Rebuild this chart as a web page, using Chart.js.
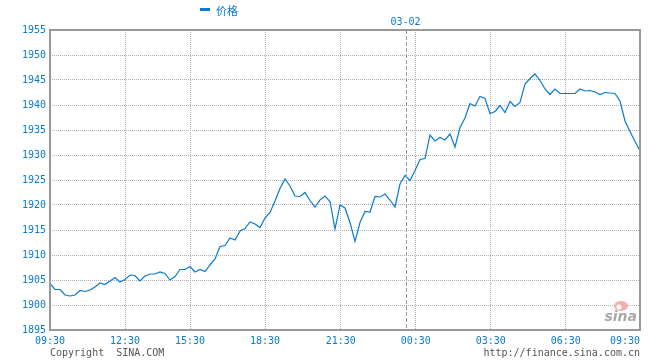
<!DOCTYPE html>
<html><head><meta charset="utf-8">
<script src="https://cdn.jsdelivr.net/npm/chart.js@4/dist/chart.umd.min.js"></script>
<style>html,body{margin:0;padding:0;background:#fff}canvas{display:block}</style>
</head><body>
<canvas id="c" width="660" height="360"></canvas>
<script>
// ---- data ----
const seriesName = '价格';
const dateLabel = '03-02';
const dateSlot = 71.14;
const prices = [
 1904.3,1903.1,1903.1,1902.0,1901.8,1902.0,1902.9,1902.7,1903.0,1903.6,
 1904.4,1904.1,1904.8,1905.5,1904.6,1905.1,1906.0,1905.9,1904.8,1905.8,
 1906.2,1906.2,1906.6,1906.3,1905.0,1905.7,1907.1,1907.1,1907.7,1906.6,
 1907.1,1906.7,1908.0,1909.2,1911.7,1911.9,1913.4,1913.0,1914.8,1915.3,
 1916.6,1916.2,1915.5,1917.4,1918.5,1920.8,1923.3,1925.2,1923.8,1921.8,
 1921.7,1922.5,1920.9,1919.6,1921.0,1921.8,1920.7,1915.2,1920.0,1919.4,
 1916.5,1912.7,1916.5,1918.7,1918.6,1921.7,1921.6,1922.2,1921.0,1919.6,
 1924.2,1925.9,1924.9,1926.9,1929.1,1929.3,1934.0,1932.8,1933.5,1933.0,
 1934.2,1931.6,1935.5,1937.4,1940.3,1939.8,1941.7,1941.3,1938.3,1938.7,
 1939.9,1938.5,1940.7,1939.7,1940.5,1944.2,1945.3,1946.2,1944.9,1943.2,
 1942.1,1943.2,1942.3,1942.3,1942.3,1942.3,1943.2,1942.8,1942.9,1942.6,
 1942.1,1942.5,1942.4,1942.3,1940.8,1936.8,1934.7,1932.7,1930.8
];
const timeLabels = ['09:30','12:30','15:30','18:30','21:30','00:30','03:30','06:30','09:30'];
const timeSlots  = [0, 15, 28, 43, 58.14, 73.14, 88.14, 103.14, 118];
const yMin = 1895, yMax = 1955, yStep = 5;
const footerLeft = 'Copyright  SINA.COM';
const footerRight = 'http://finance.sina.com.cn';

// ---- styles ----
const BLUE = '#0a7bd0';
const GRID = '#b0b0b0';
const FRAME = '#999999';
const MONO = '"DejaVu Sans Mono", "Liberation Mono", monospace';

const decor = {
  id: 'decor',
  afterDraw(chart) {
    const ctx = chart.ctx, a = chart.chartArea, xs = chart.scales.x;
    ctx.save();
    // date divider
    const dx = Math.round(xs.getPixelForValue(dateSlot)) + 0.5;
    ctx.strokeStyle = FRAME; ctx.lineWidth = 1; ctx.setLineDash([4, 2]);
    ctx.beginPath(); ctx.moveTo(dx, a.top); ctx.lineTo(dx, a.bottom); ctx.stroke();
    ctx.setLineDash([]);
    // frame
    ctx.strokeStyle = FRAME; ctx.lineWidth = 2;
    ctx.strokeRect(a.left, a.top, a.right - a.left, a.bottom - a.top);
    // x labels
    ctx.fillStyle = BLUE; ctx.font = '10px ' + MONO; ctx.textBaseline = 'middle';
    timeLabels.forEach((t, i) => {
      const px = xs.getPixelForValue(timeSlots[i]);
      ctx.textAlign = (i === timeLabels.length - 1) ? 'right' : 'center';
      ctx.fillText(t, px, a.bottom + 11);
    });
    // date label
    ctx.textAlign = 'center';
    ctx.fillText(dateLabel, dx - 1, 22);
    // legend
    ctx.fillRect(200, 8, 10, 3);
    ctx.font = '11px "Noto Sans CJK SC", sans-serif';
    ctx.textAlign = 'left';
    ctx.fillText(seriesName, 216, 11);
    // footer
    ctx.fillStyle = '#555555'; ctx.font = '10px ' + MONO;
    ctx.textAlign = 'left'; ctx.fillText(footerLeft, 50, 353);
    ctx.textAlign = 'right'; ctx.fillText(footerRight, 640, 353);
    // watermark
    ctx.fillStyle = '#f2b0b0';
    ctx.beginPath(); ctx.ellipse(621, 306, 7, 5, 0, 0, Math.PI * 2); ctx.fill();
    ctx.fillStyle = '#ffffff';
    ctx.beginPath(); ctx.arc(619, 307, 2.5, 0, Math.PI * 2); ctx.fill();
    ctx.fillStyle = '#aaaaaa';
    ctx.font = 'italic bold 14px "DejaVu Sans", sans-serif';
    ctx.textAlign = 'right'; ctx.textBaseline = 'alphabetic';
    ctx.fillText('sina', 637, 321);
    ctx.restore();
  }
};

new Chart(document.getElementById('c'), {
  type: 'line',
  data: {
    datasets: [{
      label: seriesName,
      data: prices.map((v, i) => ({ x: i, y: v })),
      borderColor: BLUE,
      borderWidth: 1.2,
      pointRadius: 0,
      tension: 0,
      fill: false
    }]
  },
  options: {
    responsive: false,
    devicePixelRatio: 1,
    animation: false,
    layout: { padding: { left: 0, right: 20, top: 30, bottom: 30 } },
    plugins: { legend: { display: false }, tooltip: { enabled: false } },
    scales: {
      x: {
        type: 'linear',
        min: 0, max: prices.length - 1,
        afterBuildTicks(scale) { scale.ticks = timeSlots.map(v => ({ value: v })); },
        afterFit(scale) { scale.height = 0; },
        ticks: { display: false },
        grid: { color: GRID, lineWidth: 1, drawTicks: false },
        border: { display: false, dash: [1, 1] }
      },
      y: {
        min: yMin, max: yMax,
        afterFit(scale) { scale.width = 50; },
        ticks: { stepSize: yStep, color: BLUE, padding: 4, font: { family: MONO, size: 10 },
                 callback: v => String(v) },
        grid: { color: GRID, lineWidth: 1, drawTicks: false },
        border: { display: false, dash: [1, 1] }
      }
    }
  },
  plugins: [decor]
});
</script>
</body></html>
